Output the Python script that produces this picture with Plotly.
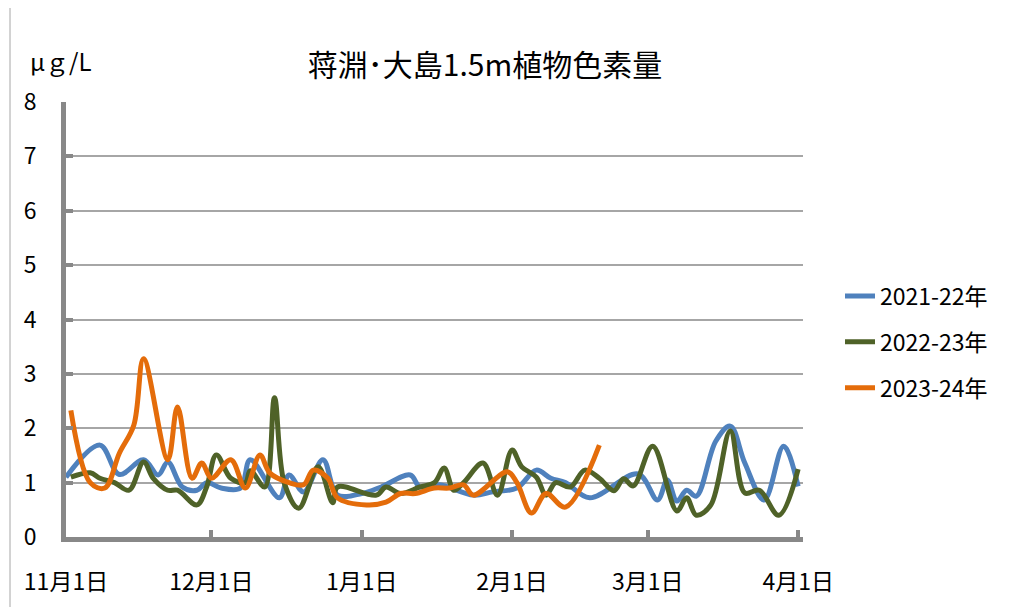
import plotly.graph_objects as go

# x = days since Nov 1 (common axis Nov 1 -> Apr 1)
tick_days = [0, 30, 61, 92, 120, 151]
tick_labels = ["11月1日", "12月1日", "1月1日", "2月1日", "3月1日", "4月1日"]

series_names = ["2021-22年", "2022-23年", "2023-24年"]

days_2122 = [0, 7, 11, 16, 19, 21, 24, 27, 29, 32, 36, 38, 44, 46, 49, 53, 56, 61, 65, 71, 73,
             77, 84, 88, 93, 97, 100, 103, 108, 118, 122, 124, 126, 128, 130, 134, 137, 140, 144, 148, 151]
vals_2122 = [1.1, 1.69, 1.15, 1.42, 1.14, 1.38, 0.92, 0.86, 1.0, 0.9, 0.9, 1.42, 0.72, 1.14, 0.83, 1.42, 0.77, 0.8, 0.92, 1.14, 0.92,
             0.96, 0.77, 0.83, 0.9, 1.23, 1.08, 1.0, 0.72, 1.16, 0.68, 1.05, 0.66, 0.86, 0.75, 1.76, 2.04, 1.36, 0.68, 1.67, 0.93]

days_2223 = [1, 5, 7, 10, 13, 16, 18, 21, 23, 27, 29, 31, 34, 37, 38, 41, 43, 45, 48, 52, 55, 56,
             64, 66, 69, 73, 76, 78, 80, 82, 86, 89, 92, 94, 97, 99, 101, 104, 107, 110, 113, 115,
             117, 121, 126, 128, 130, 133, 137, 140, 143, 147, 151]
vals_2223 = [1.1, 1.18, 1.08, 1.0, 0.86, 1.38, 1.08, 0.86, 0.86, 0.59, 0.92, 1.51, 1.08, 1.0, 1.22, 0.92, 2.56, 1.0, 0.53, 1.29, 0.63, 0.92,
             0.77, 0.92, 0.8, 0.92, 1.0, 1.27, 0.86, 1.0, 1.36, 0.77, 1.6, 1.29, 1.1, 0.77, 1.0, 0.92, 1.23, 1.08, 0.85, 1.07,
             0.94, 1.67, 0.48, 0.72, 0.4, 0.59, 1.95, 0.81, 0.86, 0.4, 1.25]

days_2324 = [1, 5, 8, 11, 14, 16, 21, 23, 26, 28, 30, 34, 37, 40, 42, 46, 49, 51, 54, 56, 62, 66,
             69, 72, 76, 79, 82, 84, 91, 93, 96, 99, 103, 110]
vals_2324 = [2.33, 1.0, 0.9, 1.54, 2.06, 3.28, 1.42, 2.39, 1.08, 1.36, 1.08, 1.42, 0.9, 1.51, 1.18, 1.0, 0.96, 1.23, 1.08, 0.72, 0.59, 0.64,
             0.8, 0.8, 0.9, 0.9, 0.96, 0.77, 1.2, 1.0, 0.44, 0.8, 0.55, 1.69]

colors = ["#4F81BD", "#4F6228", "#E46C0A"]
FONT = "Noto Sans CJK JP"

# page offsets (browser body margin of 8px)
OFF = 8
PL, PR, PT, PB = 66, 803, 102, 537  # plot area in page pixels
W, H = 1030, 607


def px_x(p):
    return (p - PL) / (PR - PL)


def px_y(p):
    return (PB - p) / (PB - PT)


fig = go.Figure()
for i, (d, v) in enumerate([(days_2122, vals_2122), (days_2223, vals_2223), (days_2324, vals_2324)]):
    fig.add_trace(go.Scatter(
        x=d, y=v, mode="lines", name=series_names[i], legendgroup=str(i),
        line=dict(color=colors[i], width=5, shape="spline", smoothing=1.0),
    ))

fig.update_layout(
    width=W, height=H,
    margin=dict(l=PL - OFF, r=W + OFF - PR, t=PT - OFF, b=H + OFF - PB, autoexpand=False),
    paper_bgcolor="white", plot_bgcolor="white",
    font=dict(family=FONT, size=23, color="#000000"),
    title=dict(text="蒋淵･大島1.5m植物色素量", x=(485 - OFF) / W, xanchor="center",
               y=1 - (65 - OFF) / H, yanchor="middle",
               font=dict(family=FONT, size=30, color="#000000")),
    showlegend=True,
    legend=dict(x=px_x(840), xanchor="left", y=px_y(342), yanchor="middle",
                font=dict(family=FONT, size=23), tracegroupgap=13,
                bgcolor="rgba(0,0,0,0)"),
    xaxis=dict(range=[0, 152], tickvals=tick_days, ticktext=tick_labels,
               showgrid=False, zeroline=False, showline=True, linecolor="#888888", linewidth=5,
               ticks="inside", ticklen=7, tickwidth=4, tickcolor="#888888",
               ticklabelstandoff=20, tickfont=dict(family=FONT, size=23)),
    yaxis=dict(range=[0, 8], dtick=1, tick0=0,
               showgrid=True, gridcolor="#A6A6A6", gridwidth=2, zeroline=False,
               showline=True, linecolor="#888888", linewidth=5,
               ticks="inside", ticklen=7, tickwidth=4, tickcolor="#888888",
               ticklabelstandoff=20, tickfont=dict(family=FONT, size=23)),
    annotations=[dict(text="μｇ/L", xref="paper", yref="paper", x=px_x(28), y=px_y(60),
                      xanchor="left", yanchor="middle", showarrow=False,
                      font=dict(family=FONT, size=24, color="#000000"))],
    shapes=[
        dict(type="line", xref="paper", yref="paper", x0=px_x(10), x1=px_x(10),
             y0=px_y(620), y1=px_y(6), line=dict(color="#A6A6A6", width=1)),
        dict(type="line", xref="paper", yref="paper", x0=px_x(10), x1=px_x(1040),
             y0=px_y(6), y1=px_y(6), line=dict(color="#D0D0D0", width=1)),
    ],
)

fig.write_html("out.html")
